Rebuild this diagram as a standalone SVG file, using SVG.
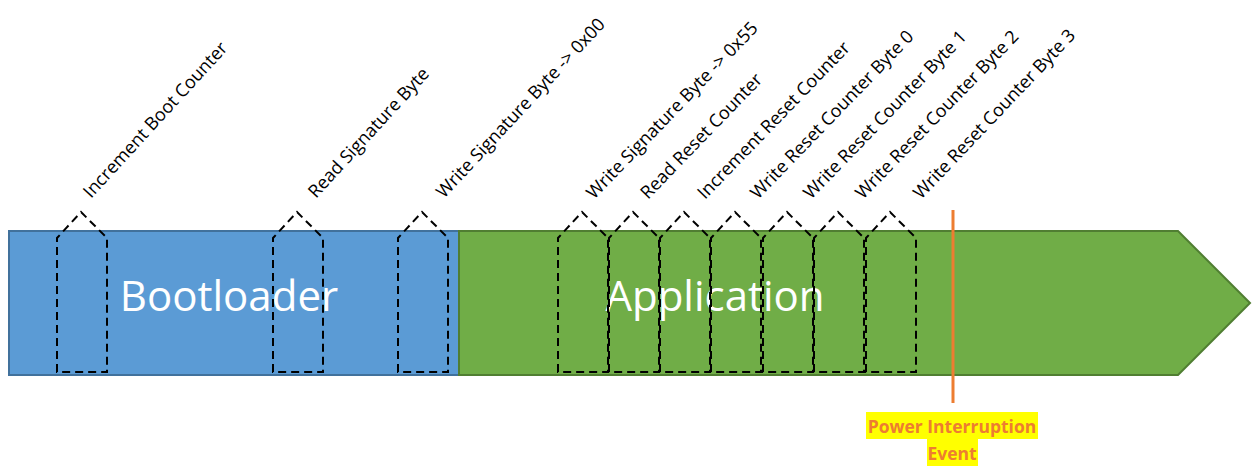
<svg xmlns="http://www.w3.org/2000/svg" width="1252" height="466" viewBox="0 0 1252 466">
  <style>
    .phase-boot { fill: #5B9BD5; stroke: #41719C; stroke-width: 2; }
    .phase-app { fill: #70AD47; stroke: #507E32; stroke-width: 2; }
    .phase-label { font-family: "Open Sans", "Noto Sans", sans-serif; font-size: 42px; fill: #FFFFFF; text-anchor: middle; }
    .step { fill: none; stroke: #000000; stroke-width: 2; stroke-dasharray: 8 5; }
    .step-label { font-family: "Open Sans", "Noto Sans", sans-serif; font-size: 18px; fill: #000000; }
    .event-line { stroke: #ED7D31; stroke-width: 3; }
    .event-bg { fill: #FFFF00; }
    .event-label { font-family: "Open Sans", "Noto Sans", sans-serif; font-size: 17.5px; font-weight: bold; fill: #ED7D31; text-anchor: middle; }
  </style>
  <defs>
    <!-- one operation window: tall box with a peaked top, 50px wide, origin at bottom-left -->
    <path id="step-shape" d="M0,0 L0,-134 L24,-160 L50,-134 L50,0 Z"/>
  </defs>

  <!-- timeline phases -->
  <g id="bootloader">
    <rect class="phase-boot" x="9" y="231" width="450" height="144"/>
    <text class="phase-label" x="229" y="311">Bootloader</text>
  </g>
  <g id="application">
    <path class="phase-app" d="M459,231 L1178,231 L1250,303 L1178,375 L459,375 Z"/>
    <text class="phase-label" x="715" y="311">Application</text>
  </g>

  <!-- operation windows -->
  <g id="step-increment-boot-counter">
    <use href="#step-shape" class="step" x="57" y="372"/>
    <text class="step-label" transform="translate(91,199) rotate(-47.5)">Increment Boot Counter</text>
  </g>
  <g id="step-read-signature">
    <use href="#step-shape" class="step" x="273" y="372"/>
    <text class="step-label" transform="translate(316,199) rotate(-47.5)">Read Signature Byte</text>
  </g>
  <g id="step-write-signature-00">
    <use href="#step-shape" class="step" x="398" y="372"/>
    <text class="step-label" transform="translate(444,199) rotate(-47)">Write Signature Byte -&gt; 0x00</text>
  </g>
  <g id="step-write-signature-55">
    <use href="#step-shape" class="step" x="558" y="372"/>
    <text class="step-label" transform="translate(594,200) rotate(-46)">Write Signature Byte -&gt; 0x55</text>
  </g>
  <g id="step-read-reset-counter">
    <use href="#step-shape" class="step" x="609" y="372"/>
    <text class="step-label" transform="translate(648,200) rotate(-46)">Read Reset Counter</text>
  </g>
  <g id="step-increment-reset-counter">
    <use href="#step-shape" class="step" x="660" y="372"/>
    <text class="step-label" transform="translate(705,200) rotate(-46)">Increment Reset Counter</text>
  </g>
  <g id="step-write-byte-0">
    <use href="#step-shape" class="step" x="711" y="372"/>
    <text class="step-label" transform="translate(758,200) rotate(-46)">Write Reset Counter Byte 0</text>
  </g>
  <g id="step-write-byte-1">
    <use href="#step-shape" class="step" x="763" y="372"/>
    <text class="step-label" transform="translate(811,200) rotate(-46)">Write Reset Counter Byte 1</text>
  </g>
  <g id="step-write-byte-2">
    <use href="#step-shape" class="step" x="814" y="372"/>
    <text class="step-label" transform="translate(863,200) rotate(-46)">Write Reset Counter Byte 2</text>
  </g>
  <g id="step-write-byte-3">
    <use href="#step-shape" class="step" x="866" y="372"/>
    <text class="step-label" transform="translate(921,200) rotate(-46.5)">Write Reset Counter Byte 3</text>
  </g>

  <!-- power interruption marker -->
  <g id="connectors">
    <line class="event-line" x1="953" y1="210" x2="953" y2="403"/>
  </g>
  <g id="power-interruption">
    <rect class="event-bg" x="866" y="412" width="172" height="27"/>
    <rect class="event-bg" x="927" y="439" width="51" height="27"/>
    <text class="event-label" x="952" y="433">Power Interruption</text>
    <text class="event-label" x="952" y="460">Event</text>
  </g>
</svg>
